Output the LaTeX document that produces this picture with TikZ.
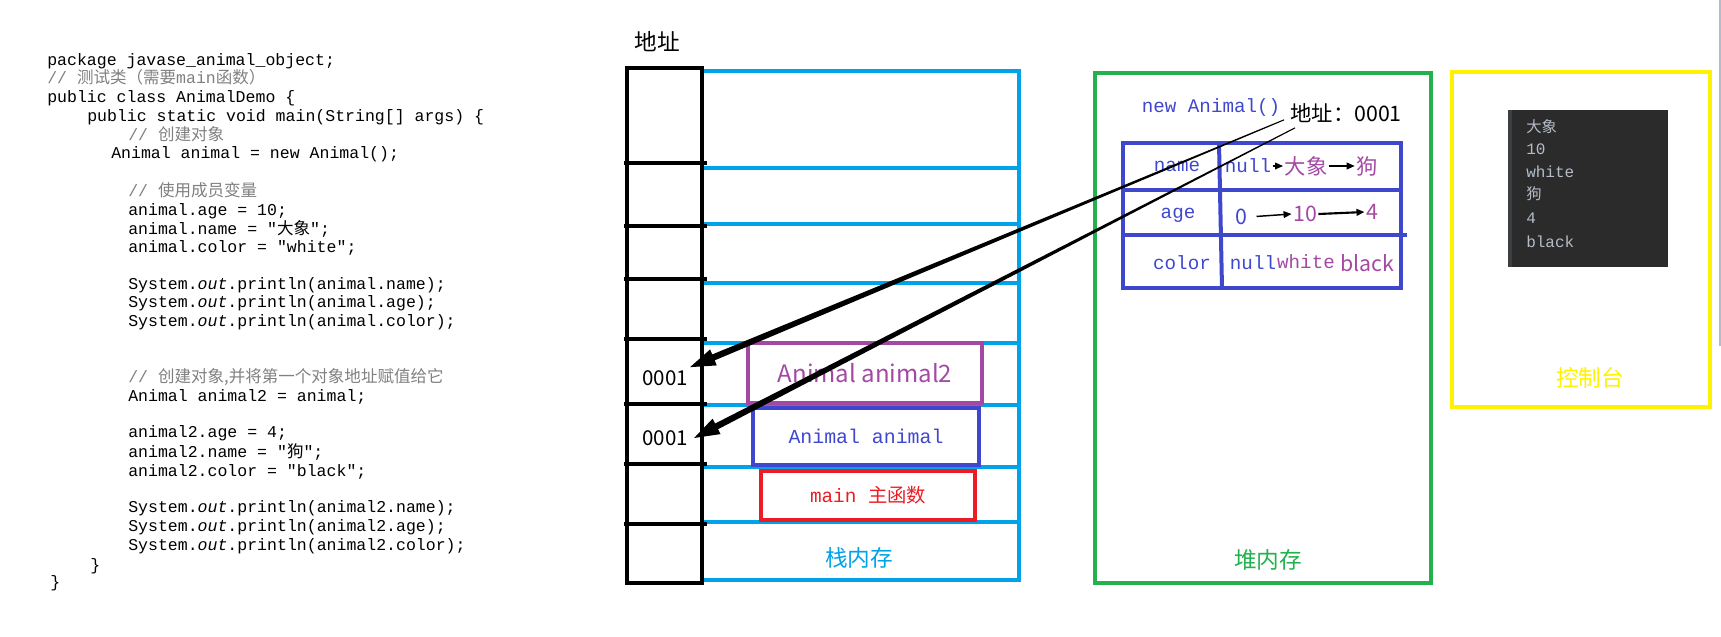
\documentclass[tikz,border=0pt]{standalone}
\usepackage{fontspec}
\setmainfont{Liberation Sans}
\setmonofont{Liberation Mono}
\newfontfamily\cjk{Noto Sans CJK SC}
\usepackage{tikz}
\usetikzlibrary{positioning, calc, arrows.meta}

\definecolor{stackblue}{HTML}{00A2E8}
\definecolor{heapgreen}{HTML}{22B14C}
\definecolor{consoleyellow}{HTML}{FFF200}
\definecolor{tableblue}{HTML}{3F48CC}
\definecolor{valpurple}{HTML}{A349A4}
\definecolor{framered}{HTML}{ED1C24}
\definecolor{codegray}{HTML}{808080}
\definecolor{consolebg}{HTML}{2B2B2B}
\definecolor{consolestrip}{HTML}{3C3F41}
\definecolor{consolefg}{HTML}{B4BCC8}
\definecolor{edgegray}{HTML}{B4BCCC}

\tikzset{
  codeline/.style={anchor=base west, inner sep=0pt, font=\ttfamily\fontsize{12.4}{14}\selectfont},
  cjklabel/.style={inner sep=0pt, font=\cjk\fontsize{17}{20}\selectfont},
  addrtext/.style={inner sep=0pt, font=\cjk\fontsize{15.4}{18}\selectfont},
  framebox/.style={draw, line width=2.8pt, inner sep=0pt},
  monotext/.style={inner sep=1pt, font=\ttfamily\fontsize{14.4}{16}\selectfont},
  valtext/.style={inner sep=1pt, font=\cjk\fontsize{16}{18}\selectfont},
  valarrow/.style={-{Triangle[length=6pt,width=5pt]}, line width=1.1pt},
  consoletext/.style={anchor=west, inner sep=0pt, text=consolefg}
}

\begin{document}
\begin{tikzpicture}[x=0.75pt, y=-0.75pt]
\useasboundingbox (0,0) rectangle (1721,636);

% source code
\foreach \y/\x/\code [count=\i] in {
  65/47/{package javase\_animal\_object;},
  83/47/{\color{codegray}// {\cjk 测试类（需要}main{\cjk 函数）}},
  102/47/{public class AnimalDemo \{},
  121/87/{public static void main(String[] args) \{},
  140/128/{\color{codegray}// {\cjk 创建对象}},
  158/111/{Animal animal = new Animal();},
  196/128/{\color{codegray}// {\cjk 使用成员变量}},
  215/128/{animal.age = 10;},
  234/128/{animal.name = "{\cjk 大象}";},
  252/128/{animal.color = "white";},
  289/128/{System.\textit{out}.println(animal.name);},
  307/128/{System.\textit{out}.println(animal.age);},
  326/128/{System.\textit{out}.println(animal.color);},
  382/128/{\color{codegray}// {\cjk 创建对象,并将第一个对象地址赋值给它}},
  401/128/{Animal animal2 = animal;},
  437/128/{animal2.age = 4;},
  457/128/{animal2.name = "{\cjk 狗}";},
  476/128/{animal2.color = "black";},
  512/128/{System.\textit{out}.println(animal2.name);},
  531/128/{System.\textit{out}.println(animal2.age);},
  550/128/{System.\textit{out}.println(animal2.color);},
  570/90/{\}},
  587/50/{\}}}
  \node[codeline] (code\i) at (\x,\y) {\code};

% stack memory
\draw[stackblue, line width=2.6pt] (702,71) rectangle (1019,580);
\foreach \y in {168,224,283,343,405,467,522}
  \draw[stackblue, line width=2.6pt] (702,\y) -- (1019,\y);
\draw[line width=2.6pt] (627,68) rectangle (702,583);
\foreach \y in {163,226,279,339,404,464,524}
  \draw[line width=2.6pt] (624,\y) -- (707,\y);
\node[cjklabel] (addrhead) at (657,42) {地址};
\node[addrtext] (addr2) at (665,378) {0001};
\node[addrtext] (addr1) at (665,438) {0001};
\node[framebox, draw=valpurple, text=valpurple, minimum width=175.5pt, minimum height=45pt,
  font=\cjk\fontsize{18}{20}\selectfont] (frame2) at (865,373) {Animal animal2};
\node[framebox, draw=tableblue, text=tableblue, minimum width=169.5pt, minimum height=42.75pt,
  font=\ttfamily\fontsize{14.9}{17}\selectfont] (frame1) at (866,436.5) {Animal animal};
\node[framebox, draw=framered, text=framered, minimum width=160.5pt, minimum height=36.75pt,
  font=\ttfamily\fontsize{14.5}{17}\selectfont] (framemain) at (868,495.5) {main {\cjk 主函数}};
\node[cjklabel, text=stackblue] (stacklabel) at (859,558) {栈内存};

% heap memory
\draw[heapgreen, line width=3pt] (1095,73) rectangle (1431,583);
\node[cjklabel, text=heapgreen] (heaplabel) at (1268,560) {堆内存};
\node[monotext, text=tableblue] (newobj) at (1211,108) {new Animal()};
\node[inner sep=0pt, font=\cjk\fontsize{16}{18}\selectfont] (heapaddr) at (1346,113) {地址：0001};
\draw[tableblue, line width=3pt] (1123,143) rectangle (1401,288);
\draw[tableblue, line width=3pt] (1219,143) -- (1222,288);
\draw[tableblue, line width=3pt] (1123,190) -- (1401,190);
\draw[tableblue, line width=3pt] (1123,235) -- (1407,235);

\node[monotext, text=tableblue] (fname) at (1177,166) {name};
\node[monotext, text=tableblue] (fage) at (1178,215) {age};
\node[monotext, text=tableblue] (fcolor) at (1182,263) {color};

\node[monotext, text=tableblue] (name0) at (1248,166) {null};
\node[valtext, text=valpurple] (name1) at (1306,166) {大象};
\node[valtext, text=valpurple] (name2) at (1367,166) {狗};
\node[valtext, text=tableblue] (age0) at (1241,217) {0};
\node[valtext, text=valpurple] (age1) at (1305,214) {10};
\node[valtext, text=valpurple] (age2) at (1372,212) {4};
\node[monotext, text=tableblue] (color0) at (1253,263) {null};
\node[monotext, text=valpurple, inner sep=0pt] (color1) at (1306,262) {white};
\node[valtext, text=valpurple, inner sep=0pt] (color2) at (1367,263) {black};

\draw[valarrow] (name0.east) -- (name1.west);
\draw[valarrow] (name1.east) -- (name2.west);
\draw[valarrow, shorten <=6pt] (age0.east) -- (age1.west);
\draw[valarrow, line width=1.6pt] (age1.east) -- (age2.west);

% references from the heap object to the stack variables
\coordinate (src2) at ([shift={(-6,-3)}]heapaddr.south west);
\coordinate (src1) at ([shift={(5,5)}]heapaddr.south west);
\coordinate (dst2) at ([shift={(2,-3)}]addr2.north east);
\coordinate (dst1) at ([shift={(6,0)}]addr1.east);
\foreach \src/\dst in {src2/dst2, src1/dst1} {
  \coordinate (base) at ($(\dst)!19pt!(\src)$);
  \fill ($(\src)!0.4pt!90:(\dst)$) -- ($(base)!2.4pt!-90:(\src)$) -- ($(base)!6.5pt!-90:(\src)$)
    -- (\dst) -- ($(base)!6.5pt!90:(\src)$) -- ($(base)!2.4pt!90:(\src)$) -- ($(\src)!0.4pt!-90:(\dst)$) -- cycle;
}

% console
\draw[consoleyellow, line width=3pt] (1452,72) rectangle (1710,407);
\fill[consolebg] (1508,110) rectangle (1668,267);
\fill[consolestrip] (1508,110) rectangle (1512,267);
\node[consoletext, font=\cjk\fontsize{11.5}{13}\selectfont] (out1) at (1526,127) {大象};
\node[consoletext, font=\ttfamily\fontsize{12}{14}\selectfont] (out2) at (1526,149) {10};
\node[consoletext, font=\ttfamily\fontsize{12}{14}\selectfont] (out3) at (1526,172) {white};
\node[consoletext, font=\cjk\fontsize{11.5}{13}\selectfont] (out4) at (1526,194) {狗};
\node[consoletext, font=\ttfamily\fontsize{12}{14}\selectfont] (out5) at (1526,218) {4};
\node[consoletext, font=\ttfamily\fontsize{12}{14}\selectfont] (out6) at (1526,242) {black};
\node[cjklabel, text=consoleyellow] (consolelabel) at (1590,378) {控制台};

\draw[edgegray, line width=1.5pt] (1719.5,0) -- (1719.5,346);
\end{tikzpicture}
\end{document}
